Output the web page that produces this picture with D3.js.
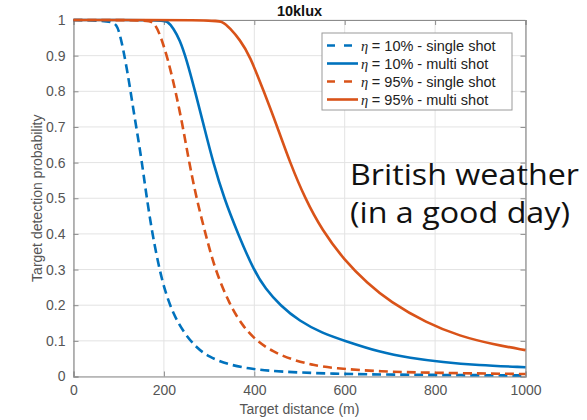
<!DOCTYPE html>
<html>
<head>
<meta charset="utf-8">
<script src="https://cdn.jsdelivr.net/npm/d3@7"></script>
<style>
body { margin: 0; background: #fff; }
svg { display: block; }
</style>
</head>
<body>
<div id="chart"></div>
<script>
// values: [distance (m), probability]
var blueSingle = [[0,1],[85,0.998],[95,0.985],[100,0.972],[110,0.92],[123,0.827],[132,0.752],[143,0.668],[151,0.603],[160,0.52],[173,0.41],[188,0.313],[202,0.24],[221,0.175],[243,0.125],[272,0.08],[300,0.055],[340,0.034],[390,0.022],[430,0.016],[500,0.011],[575,0.008],[650,0.006],[750,0.005],[850,0.004],[1000,0.003]];
var blueMulti = [[0,1],[195,1],[208,0.997],[221,0.977],[235,0.945],[250,0.89],[269,0.8],[289,0.7],[309,0.6],[333,0.5],[364,0.4],[398,0.3],[425,0.245],[457,0.2],[500,0.155],[550,0.122],[600,0.1],[678,0.068],[744,0.052],[818,0.04],[892,0.032],[1000,0.026]];
var orangeSingle = [[0,1],[165,1],[178,0.993],[190,0.965],[208,0.895],[226,0.8],[242,0.7],[256,0.6],[272,0.5],[292,0.4],[313,0.3],[346,0.2],[375,0.14],[405,0.1],[440,0.07],[486,0.046],[530,0.032],[575,0.023],[678,0.014],[800,0.01],[1000,0.007]];
var orangeMulti = [[0,1],[310,1],[330,0.996],[346,0.977],[368,0.945],[390,0.9],[421,0.8],[451,0.7],[479,0.6],[512,0.5],[550,0.41],[600,0.325],[650,0.262],[700,0.21],[781,0.15],[855,0.113],[929,0.09],[1000,0.074]];

var seriesNames = ["= 10% - single shot", "= 10% - multi shot", "= 95% - single shot", "= 95% - multi shot"];
var seriesData = [blueSingle, blueMulti, orangeSingle, orangeMulti];
var seriesColors = ["#0072BD", "#0072BD", "#D95319", "#D95319"];
var seriesDash = ["9,5", null, "9,5", null];

var xTicks = [0, 200, 400, 600, 800, 1000];
var yTicks = [0, 0.1, 0.2, 0.3, 0.4, 0.5, 0.6, 0.7, 0.8, 0.9, 1];
var titleText = "10klux";
var noteLines = ["British weather", "(in a good day)"];

var W = 587, H = 420;
var margin = {left: 73.5, right: 61.5, top: 20, bottom: 43.5};
var width = W - margin.left - margin.right;
var height = H - margin.top - margin.bottom;

var svg = d3.select("#chart").append("svg")
    .attr("width", W)
    .attr("height", H)
    .style("font-family", "Arial, 'Liberation Sans', sans-serif");

var g = svg.append("g")
    .attr("transform", "translate(" + margin.left + "," + margin.top + ")");

var x = d3.scaleLinear().domain([0, 1000]).range([0, width]);
var y = d3.scaleLinear().domain([0, 1]).range([height, 0]);

// grid
g.selectAll(".gx").data(xTicks).enter().append("line")
    .attr("x1", function(d) { return x(d); }).attr("x2", function(d) { return x(d); })
    .attr("y1", 0).attr("y2", height)
    .attr("stroke", "#e3e3e3").attr("stroke-width", 1);
g.selectAll(".gy").data(yTicks).enter().append("line")
    .attr("x1", 0).attr("x2", width)
    .attr("y1", function(d) { return y(d); }).attr("y2", function(d) { return y(d); })
    .attr("stroke", "#e3e3e3").attr("stroke-width", 1);

// axes (box with inward ticks)
var fmt = function(d) { return d3.format("~g")(d); };
var xAxis = g.append("g").attr("transform", "translate(0," + height + ")")
    .call(d3.axisBottom(x).tickValues(xTicks).tickSize(-5).tickPadding(9).tickFormat(fmt));
var yAxis = g.append("g")
    .call(d3.axisLeft(y).tickValues(yTicks).tickSize(-5).tickPadding(8).tickFormat(fmt));
var xTop = g.append("g")
    .call(d3.axisTop(x).tickValues(xTicks).tickSize(-5).tickFormat(""));
var yRight = g.append("g").attr("transform", "translate(" + width + ",0)")
    .call(d3.axisRight(y).tickValues(yTicks).tickSize(-5).tickFormat(""));

[xAxis, yAxis, xTop, yRight].forEach(function(a) {
    a.select(".domain").attr("stroke", "#8c8c8c").attr("stroke-width", 1.2);
    a.selectAll(".tick line").attr("stroke", "#8c8c8c");
    a.selectAll("text").attr("fill", "#555").style("font-size", "14px");
});

// curves (smoothed through the read points)
var line = d3.line()
    .x(function(d) { return x(d[0]); })
    .y(function(d) { return y(d[1]); })
    .curve(d3.curveBasis);

g.selectAll(".curve").data(seriesData).enter().append("path")
    .attr("class", "curve")
    .attr("d", line)
    .attr("fill", "none")
    .attr("stroke", function(d, i) { return seriesColors[i]; })
    .attr("stroke-width", 2.6)
    .attr("stroke-dasharray", function(d, i) { return seriesDash[i]; });

// title and labels
svg.append("text")
    .attr("x", margin.left + width / 2).attr("y", 16)
    .attr("text-anchor", "middle")
    .style("font-size", "14.5px").style("font-weight", "bold")
    .attr("fill", "#111")
    .text(titleText);

svg.append("text")
    .attr("x", margin.left + width / 2).attr("y", 414)
    .attr("text-anchor", "middle")
    .style("font-size", "14px").attr("fill", "#555")
    .text("Target distance (m)");

svg.append("text")
    .attr("transform", "translate(42," + (margin.top + height / 2) + ") rotate(-90)")
    .attr("text-anchor", "middle")
    .style("font-size", "14px").attr("fill", "#555")
    .text("Target detection probability");

// legend
var lg = svg.append("g").attr("transform", "translate(322,33)");
lg.append("rect")
    .attr("width", 190).attr("height", 77)
    .attr("fill", "#fff").attr("stroke", "#9a9a9a").attr("stroke-width", 1);
var items = lg.selectAll(".item").data(seriesNames).enter().append("g")
    .attr("transform", function(d, i) { return "translate(0," + (12.5 + i * 18) + ")"; });
items.append("line")
    .attr("x1", 5).attr("x2", 36)
    .attr("stroke", function(d, i) { return seriesColors[i]; })
    .attr("stroke-width", 2.6)
    .attr("stroke-dasharray", function(d, i) { return seriesDash[i] ? "8,9" : null; });
var lt = items.append("text")
    .attr("x", 39).attr("dy", "0.35em")
    .style("font-size", "14.5px").attr("fill", "#222");
lt.append("tspan")
    .style("font-family", "'Liberation Serif', 'DejaVu Serif', serif")
    .style("font-style", "italic")
    .text("η ");
lt.append("tspan").text(function(d) { return d; });

// annotation
var note = svg.append("text")
    .style("font-family", "'Open Sans', sans-serif")
    .style("font-size", "29px")
    .attr("fill", "#111");
note.selectAll("tspan").data(noteLines).enter().append("tspan")
    .attr("x", 350)
    .attr("y", function(d, i) { return 185 + i * 38; })
    .attr("textLength", function(d, i) { return i === 0 ? 229 : 220; })
    .attr("lengthAdjust", "spacingAndGlyphs")
    .text(function(d) { return d; });
</script>
</body>
</html>
